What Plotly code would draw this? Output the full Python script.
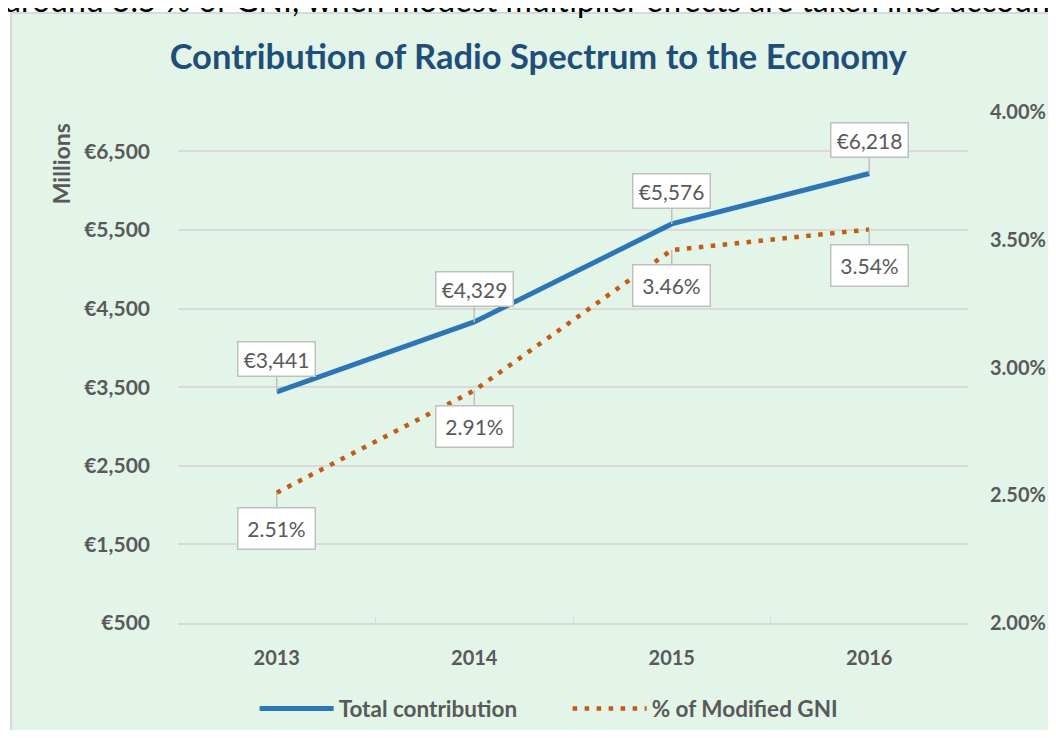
import plotly.graph_objects as go

# values
years = ["2013", "2014", "2015", "2016"]
total_contribution = [3441, 4329, 5576, 6218]   # EUR millions
pct_modified_gni = [2.51, 2.91, 3.46, 3.54]     # % of modified GNI

left_ticks = [500, 1500, 2500, 3500, 4500, 5500, 6500]
right_ticks = [2.0, 2.5, 3.0, 3.5, 4.0]

FONT = "Lato"
GREY_TXT = "#595959"
GRID = "#D9D9D9"
BG = "#E3F5E9"

fig = go.Figure()

fig.add_trace(go.Scatter(
    x=years, y=total_contribution, name="Total contribution",
    mode="lines", line=dict(color="#2E75B6", width=5),
))
fig.add_trace(go.Scatter(
    x=years, y=pct_modified_gni, name="% of Modified GNI",
    mode="lines", yaxis="y2",
    line=dict(color="#C55A11", width=4.5, dash="4.5px,7.5px"),
))

# data callouts (category axis -> position by index)
box_style = dict(
    showarrow=True, arrowhead=0, arrowwidth=1.5, arrowcolor="#BFBFBF",
    bgcolor="white", bordercolor="#BFBFBF", borderwidth=1.5,
    font=dict(family=FONT, size=21, color=GREY_TXT), standoff=0,
)
for i, v in enumerate(total_contribution):
    fig.add_annotation(x=i, y=v, xref="x", yref="y", text=f"€{v:,}",
                       ax=0, ay=-33, width=70, height=27, borderpad=3, **box_style)
for i, p in enumerate(pct_modified_gni):
    fig.add_annotation(x=i, y=p, xref="x", yref="y2", text=f"{p:.2f}%",
                       ax=0, ay=36, width=66, height=30, borderpad=5, **box_style)

# axis title sits at the top of the left axis
fig.add_annotation(text="Millions", xref="paper", yref="paper",
                   x=-0.148, y=0.898, xanchor="center", yanchor="middle",
                   textangle=-90, showarrow=False,
                   font=dict(family=FONT, size=23, color=GREY_TXT, weight="bold"))

# tail of the paragraph above the chart (cut off at the top)
fig.add_annotation(text="around 3.5 % of GNI, when modest multiplier effects are taken into account",
                   xref="paper", yref="paper", x=-0.222, y=1.221,
                   xanchor="left", yanchor="middle", showarrow=False,
                   font=dict(family=FONT, size=32, color="black"))

# chart frame
fig.add_shape(type="rect", xref="paper", yref="paper",
              x0=-0.2114, x1=1.14, y0=-0.26, y1=1.1937,
              fillcolor=BG, line=dict(color=GRID, width=2), layer="below")

fig.update_layout(
    # page body keeps its 8px margin, figure sized so the page does not scroll
    width=1048, height=722,
    margin=dict(l=170, r=88, t=104, b=107, autoexpand=False),
    paper_bgcolor="white",
    plot_bgcolor="rgba(0,0,0,0)",
    title=dict(text="Contribution of Radio Spectrum to the Economy",
               x=0.456, xref="paper", y=1 - 49 / 722, yanchor="middle",
               font=dict(family=FONT, size=34.5, color="#1F4E79", weight="bold")),
    legend=dict(orientation="h", x=0.097, xanchor="left", y=-0.168, yanchor="middle",
                font=dict(family=FONT, size=22.5, color=GREY_TXT, weight="bold"),
                bgcolor="rgba(0,0,0,0)", itemwidth=74,
                entrywidth=224, entrywidthmode="pixels"),
    xaxis=dict(type="category", range=[-0.5, 3.5], showgrid=False,
               showline=True, linecolor=GRID, linewidth=1.5,
               ticks="inside", tickson="boundaries", ticklen=6, tickcolor=GRID,
               tickfont=dict(family=FONT, size=20, color=GREY_TXT, weight="bold"),
               ticklabelstandoff=16, automargin=False),
    yaxis=dict(range=[500, 7000], tickvals=left_ticks,
               ticktext=[f"€{t:,}" for t in left_ticks],
               showgrid=True, gridcolor=GRID, gridwidth=1.5,
               zeroline=False, showline=False,
               tickfont=dict(family=FONT, size=21, color=GREY_TXT, weight="bold"),
               ticklabelstandoff=27, automargin=False),
    yaxis2=dict(range=[2, 4], overlaying="y", side="right", tickvals=right_ticks,
                ticktext=[f"{t:.2f}%" for t in right_ticks],
                showgrid=False, zeroline=False, showline=False,
                tickfont=dict(family=FONT, size=20, color=GREY_TXT, weight="bold"),
                ticklabelstandoff=21, automargin=False),
)

fig.write_html("out.html", config={"displayModeBar": False})
